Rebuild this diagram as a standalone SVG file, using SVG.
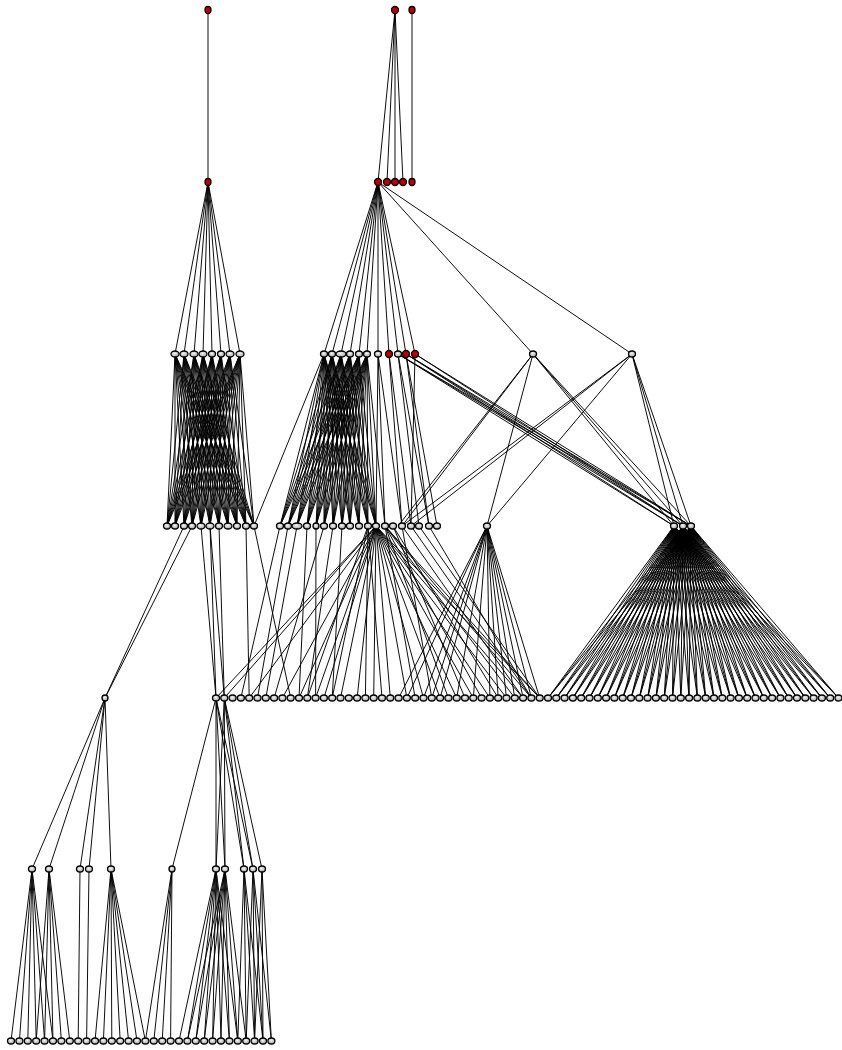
<svg xmlns="http://www.w3.org/2000/svg" width="842" height="1050" viewBox="0 0 842 1050">
<style>
.e{stroke:#000;stroke-width:0.95;fill:none}
.n{fill:url(#g);stroke:#000;stroke-width:1.3}
.r{fill:#c00000;stroke:#000;stroke-width:1.3}
</style>
<defs>
<radialGradient id="g" cx="0.45" cy="0.4" r="0.6"><stop offset="0" stop-color="#f2f2f2"/><stop offset="1" stop-color="#a8a8a8"/></radialGradient>
</defs>
<rect width="842" height="1050" fill="#fff"/>
<g id="connectors">
<path class="e" d="M208 10L208 182M395 10L378 182M395 10L387 182M395 10L395 182M395 10L403 182M412 10L412 182"/>
<path class="e" d="M208 182L175 354M208 182L184 354M208 182L194 354M208 182L203 354M208 182L212 354M208 182L221 354M208 182L230 354M208 182L240 354"/>
<path class="e" d="M378 182L324 354M378 182L332 354M378 182L341 354M378 182L350 354M378 182L359 354M378 182L367 354M378 182L378 354M378 182L389 354M378 182L398 354M378 182L406 354M378 182L415 354M378 182L533 354M378 182L632 354"/>
<path class="e" d="M175 354L167 526M175 354L175 526M175 354L184 526M175 354L192 526M175 354L201 526M175 354L210 526M175 354L219 526M175 354L228 526M175 354L237 526M175 354L246 526M175 354L254 526
M184 354L167 526M184 354L175 526M184 354L184 526M184 354L192 526M184 354L201 526M184 354L210 526M184 354L219 526M184 354L228 526M184 354L237 526M184 354L246 526M184 354L254 526
M194 354L167 526M194 354L175 526M194 354L184 526M194 354L192 526M194 354L201 526M194 354L210 526M194 354L219 526M194 354L228 526M194 354L237 526M194 354L246 526M194 354L254 526
M203 354L167 526M203 354L175 526M203 354L184 526M203 354L192 526M203 354L201 526M203 354L210 526M203 354L219 526M203 354L228 526M203 354L237 526M203 354L246 526M203 354L254 526
M212 354L167 526M212 354L175 526M212 354L184 526M212 354L192 526M212 354L201 526M212 354L210 526M212 354L219 526M212 354L228 526M212 354L237 526M212 354L246 526
M221 354L167 526M221 354L175 526M221 354L184 526M221 354L192 526M221 354L201 526M221 354L210 526M221 354L219 526M221 354L228 526M221 354L237 526M221 354L246 526
M230 354L167 526M230 354L175 526M230 354L184 526M230 354L192 526M230 354L201 526M230 354L210 526M230 354L219 526M230 354L228 526M230 354L237 526M230 354L246 526M230 354L254 526
M240 354L167 526M240 354L175 526M240 354L184 526M240 354L192 526M240 354L201 526M240 354L210 526M240 354L219 526M240 354L228 526M240 354L237 526M240 354L246 526M240 354L254 526"/>
<path class="e" d="M324 354L280 526M324 354L288 526M324 354L297 526M324 354L307 526M324 354L316 526M324 354L324 526M324 354L333 526M324 354L342 526M324 354L350 526M324 354L359 526M324 354L368 526M324 354L376 526
M332 354L280 526M332 354L288 526M332 354L297 526M332 354L307 526M332 354L316 526M332 354L324 526M332 354L333 526M332 354L342 526M332 354L350 526M332 354L359 526M332 354L368 526M332 354L376 526
M341 354L280 526M341 354L288 526M341 354L297 526M341 354L307 526M341 354L316 526M341 354L324 526M341 354L333 526M341 354L342 526M341 354L350 526M341 354L359 526M341 354L368 526M341 354L376 526
M350 354L280 526M350 354L288 526M350 354L297 526M350 354L307 526M350 354L316 526M350 354L324 526M350 354L333 526M350 354L342 526M350 354L350 526M350 354L359 526M350 354L368 526M350 354L376 526
M359 354L280 526M359 354L288 526M359 354L297 526M359 354L307 526M359 354L316 526M359 354L324 526M359 354L333 526M359 354L342 526M359 354L350 526M359 354L359 526M359 354L368 526M359 354L376 526
M367 354L288 526M367 354L297 526M367 354L307 526M367 354L316 526M367 354L324 526M367 354L333 526M367 354L342 526M367 354L350 526M367 354L359 526M367 354L368 526M367 354L376 526M367 354L385 526
M324 354L254 526M378 354L376 526M378 354L385 526M378 354L402 526M389 354L402 526M389 354L411 526M398 354L419 526M398 354L429 526M398 354L674 526M398 354L683 526M398 354L691 526M406 354L429 526M406 354L437 526M406 354L674 526M406 354L683 526M406 354L691 526M415 354L411 526M415 354L683 526M415 354L691 526"/>
<path class="e" d="M533 354L398 526M533 354L402 526M533 354L487 526M533 354L674 526M533 354L683 526M533 354L691 526M632 354L402 526M632 354L411 526M632 354L487 526M632 354L674 526M632 354L683 526M632 354L691 526"/>
<path class="e" d="M184 526L105 698M192 526L105 698M201 526L216 698M210 526L216 698M210 526L224.3 698M219 526L224.3 698M246 526L249.2 698M254 526L290.7 698
M280 526L240.9 698M288 526L257.5 698M297 526L265.8 698M307 526L299 698M316 526L315.6 698M324 526L274.1 698M333 526L307.3 698M342 526L332.2 698
M376 526L216 698M376 526L224.3 698M376 526L249.2 698M376 526L282.4 698M376 526L299 698M376 526L315.6 698M376 526L323.9 698M376 526L340.5 698M376 526L357.1 698M376 526L373.7 698M376 526L390.3 698M376 526L406.9 698M376 526L423.5 698M376 526L440.1 698M376 526L456.7 698M376 526L473.3 698M376 526L489.9 698M376 526L506.5 698M376 526L523.1 698M376 526L539.7 698
M368 526L307.3 698M368 526L332.2 698M368 526L365.4 698M368 526L382 698M385 526L415.2 698M385 526L448.4 698M385 526L481.6 698M385 526L514.8 698M385 526L531.4 698M385 526L539.7 698M393 526L465 698M393 526L498.2 698M402 526L431.8 698M402 526L523.1 698M411 526L531.4 698M419 526L539.7 698M429 526L531.4 698
M487 526L398.6 698M487 526L406.9 698M487 526L423.5 698M487 526L431.8 698M487 526L440.1 698M487 526L456.7 698M487 526L473.3 698M487 526L489.9 698M487 526L498.2 698M487 526L506.5 698M487 526L514.8 698M487 526L523.1 698M487 526L531.4 698M487 526L539.7 698"/>
<path class="e" d="M674 526L548 698M674 526L556.3 698M674 526L564.6 698M674 526L572.9 698M674 526L581.2 698M674 526L589.5 698M674 526L597.8 698M674 526L606.1 698M674 526L614.4 698M674 526L622.7 698M674 526L631 698M674 526L639.3 698M674 526L647.6 698M674 526L655.9 698M674 526L664.2 698M674 526L672.5 698M674 526L680.8 698M674 526L689.1 698M674 526L697.4 698M674 526L705.7 698M674 526L714 698M674 526L722.3 698M674 526L730.6 698M674 526L738.9 698M674 526L747.2 698M674 526L755.5 698M674 526L763.8 698M674 526L772.1 698M674 526L780.4 698M674 526L788.7 698M674 526L797 698M674 526L805.3 698M674 526L813.6 698M674 526L821.9 698M674 526L830.2 698M674 526L838.5 698
M683 526L548 698M683 526L556.3 698M683 526L564.6 698M683 526L572.9 698M683 526L581.2 698M683 526L589.5 698M683 526L597.8 698M683 526L606.1 698M683 526L614.4 698M683 526L622.7 698M683 526L631 698M683 526L639.3 698M683 526L647.6 698M683 526L655.9 698M683 526L664.2 698M683 526L672.5 698M683 526L680.8 698M683 526L689.1 698M683 526L697.4 698M683 526L705.7 698M683 526L714 698M683 526L722.3 698M683 526L730.6 698M683 526L738.9 698M683 526L747.2 698M683 526L755.5 698M683 526L763.8 698M683 526L772.1 698M683 526L780.4 698M683 526L788.7 698M683 526L797 698M683 526L805.3 698M683 526L813.6 698M683 526L821.9 698M683 526L830.2 698M683 526L838.5 698
M691 526L548 698M691 526L556.3 698M691 526L564.6 698M691 526L572.9 698M691 526L581.2 698M691 526L589.5 698M691 526L597.8 698M691 526L606.1 698M691 526L614.4 698M691 526L622.7 698M691 526L631 698M691 526L639.3 698M691 526L647.6 698M691 526L655.9 698M691 526L664.2 698M691 526L672.5 698M691 526L680.8 698M691 526L689.1 698M691 526L697.4 698M691 526L705.7 698M691 526L714 698M691 526L722.3 698M691 526L730.6 698M691 526L738.9 698M691 526L747.2 698M691 526L755.5 698M691 526L763.8 698M691 526L772.1 698M691 526L780.4 698M691 526L788.7 698M691 526L797 698M691 526L805.3 698M691 526L813.6 698M691 526L821.9 698M691 526L830.2 698M691 526L838.5 698"/>
<path class="e" d="M105 698L32 869M105 698L49 869M105 698L80 869M105 698L89 869M105 698L111 869M216 698L172 869M216 698L216 869M216 698L225 869M216 698L244 869M216 698L253 869M224.3 698L216 869M224.3 698L225 869M224.3 698L244 869M224.3 698L253 869M224.3 698L262 869"/>
<path class="e" d="M32 869L11 1041M32 869L19.4 1041M32 869L27.8 1041M32 869L36.2 1041M32 869L44.6 1041M32 869L53 1041M49 869L36.2 1041M49 869L44.6 1041M49 869L53 1041M49 869L61.4 1041M49 869L69.8 1041M80 869L78.2 1041M89 869L86.6 1041
M111 869L95 1041M111 869L103.4 1041M111 869L111.8 1041M111 869L120.2 1041M111 869L128.6 1041M111 869L137 1041M111 869L145.4 1041M172 869L145.4 1041M172 869L153.8 1041M172 869L162.2 1041M172 869L170.6 1041
M216 869L179 1041M216 869L187.4 1041M216 869L195.8 1041M216 869L204.2 1041M216 869L212.6 1041M216 869L221 1041M216 869L229.4 1041M216 869L237.8 1041M225 869L187.4 1041M225 869L195.8 1041M225 869L204.2 1041M225 869L212.6 1041M225 869L221 1041M225 869L229.4 1041M225 869L237.8 1041M225 869L246.2 1041
M244 869L237.8 1041M244 869L246.2 1041M244 869L254.6 1041M244 869L263 1041M253 869L246.2 1041M253 869L254.6 1041M253 869L263 1041M253 869L271.4 1041M262 869L254.6 1041M262 869L263 1041M262 869L271.4 1041"/>
</g>
<g id="row0">
<g id="a0"><ellipse class="r" cx="208" cy="10" rx="3" ry="3.5"/></g>
<g id="a1"><ellipse class="r" cx="395" cy="10" rx="3.5" ry="3.5"/></g>
<g id="a2"><ellipse class="r" cx="412" cy="10" rx="3" ry="3.5"/></g>
</g>
<g id="row1">
<g id="b0"><ellipse class="r" cx="208" cy="182" rx="3" ry="3.5"/></g>
<g id="b1"><ellipse class="r" cx="378" cy="182" rx="3.5" ry="3.5"/></g>
<g id="b2"><ellipse class="r" cx="387" cy="182" rx="3.5" ry="3.5"/></g>
<g id="b3"><ellipse class="r" cx="395" cy="182" rx="3.5" ry="3.5"/></g>
<g id="b4"><ellipse class="r" cx="403" cy="182" rx="3.5" ry="3.5"/></g>
<g id="b5"><ellipse class="r" cx="412" cy="182" rx="3" ry="3.5"/></g>
</g>
<g id="row2">
<g id="c0"><ellipse class="n" cx="175" cy="354" rx="4" ry="3"/></g>
<g id="c1"><ellipse class="n" cx="184" cy="354" rx="4" ry="3"/></g>
<g id="c2"><ellipse class="n" cx="194" cy="354" rx="4" ry="3"/></g>
<g id="c3"><ellipse class="n" cx="203" cy="354" rx="4" ry="3"/></g>
<g id="c4"><ellipse class="n" cx="212" cy="354" rx="3.5" ry="3"/></g>
<g id="c5"><ellipse class="n" cx="221" cy="354" rx="3.5" ry="3"/></g>
<g id="c6"><ellipse class="n" cx="230" cy="354" rx="4" ry="3"/></g>
<g id="c7"><ellipse class="n" cx="240" cy="354" rx="4" ry="3"/></g>
<g id="c8"><ellipse class="n" cx="324" cy="354" rx="3.5" ry="3"/></g>
<g id="c9"><ellipse class="n" cx="332" cy="354" rx="3.5" ry="3"/></g>
<g id="c10"><ellipse class="n" cx="341" cy="354" rx="5" ry="3"/></g>
<g id="c11"><ellipse class="n" cx="350" cy="354" rx="3.5" ry="3"/></g>
<g id="c12"><ellipse class="n" cx="359" cy="354" rx="3.5" ry="3"/></g>
<g id="c13"><ellipse class="n" cx="367" cy="354" rx="3.5" ry="3"/></g>
<g id="c14"><ellipse class="n" cx="378" cy="354" rx="3.5" ry="3"/></g>
<g id="c15"><ellipse class="r" cx="389" cy="354" rx="3.5" ry="3.5"/></g>
<g id="c16"><ellipse class="n" cx="398" cy="354" rx="3.5" ry="3"/></g>
<g id="c17"><ellipse class="r" cx="406" cy="354" rx="3.5" ry="3.5"/></g>
<g id="c18"><ellipse class="r" cx="415" cy="354" rx="3.5" ry="3.5"/></g>
<g id="c19"><ellipse class="n" cx="533" cy="354" rx="3.5" ry="3"/></g>
<g id="c20"><ellipse class="n" cx="632" cy="354" rx="3.5" ry="3"/></g>
</g>
<g id="row3">
<g id="d0"><ellipse class="n" cx="167" cy="526" rx="3.5" ry="3"/></g>
<g id="d1"><ellipse class="n" cx="175" cy="526" rx="3.5" ry="3"/></g>
<g id="d2"><ellipse class="n" cx="184" cy="526" rx="3.5" ry="3"/></g>
<g id="d3"><ellipse class="n" cx="192" cy="526" rx="3.5" ry="3"/></g>
<g id="d4"><ellipse class="n" cx="201" cy="526" rx="4" ry="3"/></g>
<g id="d5"><ellipse class="n" cx="210" cy="526" rx="4" ry="3"/></g>
<g id="d6"><ellipse class="n" cx="219" cy="526" rx="3.5" ry="3"/></g>
<g id="d7"><ellipse class="n" cx="228" cy="526" rx="4" ry="3"/></g>
<g id="d8"><ellipse class="n" cx="237" cy="526" rx="3.5" ry="3"/></g>
<g id="d9"><ellipse class="n" cx="246" cy="526" rx="3.5" ry="3"/></g>
<g id="d10"><ellipse class="n" cx="254" cy="526" rx="3.5" ry="3"/></g>
<g id="d11"><ellipse class="n" cx="280" cy="526" rx="3.5" ry="3"/></g>
<g id="d12"><ellipse class="n" cx="288" cy="526" rx="3.5" ry="3"/></g>
<g id="d13"><ellipse class="n" cx="297" cy="526" rx="5" ry="3"/></g>
<g id="d14"><ellipse class="n" cx="307" cy="526" rx="3.5" ry="3"/></g>
<g id="d15"><ellipse class="n" cx="316" cy="526" rx="3" ry="3"/></g>
<g id="d16"><ellipse class="n" cx="324" cy="526" rx="3.5" ry="3"/></g>
<g id="d17"><ellipse class="n" cx="333" cy="526" rx="3.5" ry="3"/></g>
<g id="d18"><ellipse class="n" cx="342" cy="526" rx="3.5" ry="3"/></g>
<g id="d19"><ellipse class="n" cx="350" cy="526" rx="3.5" ry="3"/></g>
<g id="d20"><ellipse class="n" cx="359" cy="526" rx="3.5" ry="3"/></g>
<g id="d21"><ellipse class="n" cx="368" cy="526" rx="3.5" ry="3"/></g>
<g id="d22"><ellipse class="n" cx="376" cy="526" rx="3.5" ry="3"/></g>
<g id="d23"><ellipse class="n" cx="385" cy="526" rx="3.5" ry="3"/></g>
<g id="d24"><ellipse class="n" cx="393" cy="526" rx="3.5" ry="3"/></g>
<g id="d25"><ellipse class="n" cx="402" cy="526" rx="3.5" ry="3"/></g>
<g id="d26"><ellipse class="n" cx="411" cy="526" rx="3.5" ry="3"/></g>
<g id="d27"><ellipse class="n" cx="419" cy="526" rx="3.5" ry="3"/></g>
<g id="d28"><ellipse class="n" cx="429" cy="526" rx="3.5" ry="3"/></g>
<g id="d29"><ellipse class="n" cx="437" cy="526" rx="3.5" ry="3"/></g>
<g id="d30"><ellipse class="n" cx="487" cy="526" rx="3.5" ry="3"/></g>
<g id="d31"><ellipse class="n" cx="674" cy="526" rx="3.5" ry="3"/></g>
<g id="d32"><ellipse class="n" cx="683" cy="526" rx="3.5" ry="3"/></g>
<g id="d33"><ellipse class="n" cx="691" cy="526" rx="3.5" ry="3"/></g>
</g>
<g id="row4">
<g id="e0"><ellipse class="n" cx="105" cy="698" rx="3" ry="3"/></g>
<g id="e1"><ellipse class="n" cx="216" cy="698" rx="3.5" ry="3"/></g>
<g id="e2"><ellipse class="n" cx="224.3" cy="698" rx="3.5" ry="3"/></g>
<g id="e3"><ellipse class="n" cx="232.6" cy="698" rx="3.5" ry="3"/></g>
<g id="e4"><ellipse class="n" cx="240.9" cy="698" rx="3.5" ry="3"/></g>
<g id="e5"><ellipse class="n" cx="249.2" cy="698" rx="3.5" ry="3"/></g>
<g id="e6"><ellipse class="n" cx="257.5" cy="698" rx="3.5" ry="3"/></g>
<g id="e7"><ellipse class="n" cx="265.8" cy="698" rx="3.5" ry="3"/></g>
<g id="e8"><ellipse class="n" cx="274.1" cy="698" rx="3.5" ry="3"/></g>
<g id="e9"><ellipse class="n" cx="282.4" cy="698" rx="3.5" ry="3"/></g>
<g id="e10"><ellipse class="n" cx="290.7" cy="698" rx="3.5" ry="3"/></g>
<g id="e11"><ellipse class="n" cx="299" cy="698" rx="3.5" ry="3"/></g>
<g id="e12"><ellipse class="n" cx="307.3" cy="698" rx="3.5" ry="3"/></g>
<g id="e13"><ellipse class="n" cx="315.6" cy="698" rx="3.5" ry="3"/></g>
<g id="e14"><ellipse class="n" cx="323.9" cy="698" rx="3.5" ry="3"/></g>
<g id="e15"><ellipse class="n" cx="332.2" cy="698" rx="3.5" ry="3"/></g>
<g id="e16"><ellipse class="n" cx="340.5" cy="698" rx="3.5" ry="3"/></g>
<g id="e17"><ellipse class="n" cx="348.8" cy="698" rx="3.5" ry="3"/></g>
<g id="e18"><ellipse class="n" cx="357.1" cy="698" rx="3.5" ry="3"/></g>
<g id="e19"><ellipse class="n" cx="365.4" cy="698" rx="3.5" ry="3"/></g>
<g id="e20"><ellipse class="n" cx="373.7" cy="698" rx="3.5" ry="3"/></g>
<g id="e21"><ellipse class="n" cx="382" cy="698" rx="3.5" ry="3"/></g>
<g id="e22"><ellipse class="n" cx="390.3" cy="698" rx="3.5" ry="3"/></g>
<g id="e23"><ellipse class="n" cx="398.6" cy="698" rx="3.5" ry="3"/></g>
<g id="e24"><ellipse class="n" cx="406.9" cy="698" rx="3.5" ry="3"/></g>
<g id="e25"><ellipse class="n" cx="415.2" cy="698" rx="3.5" ry="3"/></g>
<g id="e26"><ellipse class="n" cx="423.5" cy="698" rx="3.5" ry="3"/></g>
<g id="e27"><ellipse class="n" cx="431.8" cy="698" rx="3.5" ry="3"/></g>
<g id="e28"><ellipse class="n" cx="440.1" cy="698" rx="3.5" ry="3"/></g>
<g id="e29"><ellipse class="n" cx="448.4" cy="698" rx="3.5" ry="3"/></g>
<g id="e30"><ellipse class="n" cx="456.7" cy="698" rx="3.5" ry="3"/></g>
<g id="e31"><ellipse class="n" cx="465" cy="698" rx="3.5" ry="3"/></g>
<g id="e32"><ellipse class="n" cx="473.3" cy="698" rx="3.5" ry="3"/></g>
<g id="e33"><ellipse class="n" cx="481.6" cy="698" rx="3.5" ry="3"/></g>
<g id="e34"><ellipse class="n" cx="489.9" cy="698" rx="3.5" ry="3"/></g>
<g id="e35"><ellipse class="n" cx="498.2" cy="698" rx="3.5" ry="3"/></g>
<g id="e36"><ellipse class="n" cx="506.5" cy="698" rx="3.5" ry="3"/></g>
<g id="e37"><ellipse class="n" cx="514.8" cy="698" rx="3.5" ry="3"/></g>
<g id="e38"><ellipse class="n" cx="523.1" cy="698" rx="3.5" ry="3"/></g>
<g id="e39"><ellipse class="n" cx="531.4" cy="698" rx="3.5" ry="3"/></g>
<g id="e40"><ellipse class="n" cx="539.7" cy="698" rx="3.5" ry="3"/></g>
<g id="e41"><ellipse class="n" cx="548" cy="698" rx="3.5" ry="3"/></g>
<g id="e42"><ellipse class="n" cx="556.3" cy="698" rx="3.5" ry="3"/></g>
<g id="e43"><ellipse class="n" cx="564.6" cy="698" rx="3.5" ry="3"/></g>
<g id="e44"><ellipse class="n" cx="572.9" cy="698" rx="3.5" ry="3"/></g>
<g id="e45"><ellipse class="n" cx="581.2" cy="698" rx="3.5" ry="3"/></g>
<g id="e46"><ellipse class="n" cx="589.5" cy="698" rx="3.5" ry="3"/></g>
<g id="e47"><ellipse class="n" cx="597.8" cy="698" rx="3.5" ry="3"/></g>
<g id="e48"><ellipse class="n" cx="606.1" cy="698" rx="3.5" ry="3"/></g>
<g id="e49"><ellipse class="n" cx="614.4" cy="698" rx="3.5" ry="3"/></g>
<g id="e50"><ellipse class="n" cx="622.7" cy="698" rx="3.5" ry="3"/></g>
<g id="e51"><ellipse class="n" cx="631" cy="698" rx="3.5" ry="3"/></g>
<g id="e52"><ellipse class="n" cx="639.3" cy="698" rx="3.5" ry="3"/></g>
<g id="e53"><ellipse class="n" cx="647.6" cy="698" rx="3.5" ry="3"/></g>
<g id="e54"><ellipse class="n" cx="655.9" cy="698" rx="3.5" ry="3"/></g>
<g id="e55"><ellipse class="n" cx="664.2" cy="698" rx="3.5" ry="3"/></g>
<g id="e56"><ellipse class="n" cx="672.5" cy="698" rx="3.5" ry="3"/></g>
<g id="e57"><ellipse class="n" cx="680.8" cy="698" rx="3.5" ry="3"/></g>
<g id="e58"><ellipse class="n" cx="689.1" cy="698" rx="3.5" ry="3"/></g>
<g id="e59"><ellipse class="n" cx="697.4" cy="698" rx="3.5" ry="3"/></g>
<g id="e60"><ellipse class="n" cx="705.7" cy="698" rx="3.5" ry="3"/></g>
<g id="e61"><ellipse class="n" cx="714" cy="698" rx="3.5" ry="3"/></g>
<g id="e62"><ellipse class="n" cx="722.3" cy="698" rx="3.5" ry="3"/></g>
<g id="e63"><ellipse class="n" cx="730.6" cy="698" rx="3.5" ry="3"/></g>
<g id="e64"><ellipse class="n" cx="738.9" cy="698" rx="3.5" ry="3"/></g>
<g id="e65"><ellipse class="n" cx="747.2" cy="698" rx="3.5" ry="3"/></g>
<g id="e66"><ellipse class="n" cx="755.5" cy="698" rx="3.5" ry="3"/></g>
<g id="e67"><ellipse class="n" cx="763.8" cy="698" rx="3.5" ry="3"/></g>
<g id="e68"><ellipse class="n" cx="772.1" cy="698" rx="3.5" ry="3"/></g>
<g id="e69"><ellipse class="n" cx="780.4" cy="698" rx="3.5" ry="3"/></g>
<g id="e70"><ellipse class="n" cx="788.7" cy="698" rx="3.5" ry="3"/></g>
<g id="e71"><ellipse class="n" cx="797" cy="698" rx="3.5" ry="3"/></g>
<g id="e72"><ellipse class="n" cx="805.3" cy="698" rx="3.5" ry="3"/></g>
<g id="e73"><ellipse class="n" cx="813.6" cy="698" rx="3.5" ry="3"/></g>
<g id="e74"><ellipse class="n" cx="821.9" cy="698" rx="3.5" ry="3"/></g>
<g id="e75"><ellipse class="n" cx="830.2" cy="698" rx="3.5" ry="3"/></g>
<g id="e76"><ellipse class="n" cx="838.5" cy="698" rx="3.5" ry="3"/></g>
</g>
<g id="row5">
<g id="f0"><ellipse class="n" cx="32" cy="869" rx="3.5" ry="3"/></g>
<g id="f1"><ellipse class="n" cx="49" cy="869" rx="3.5" ry="3"/></g>
<g id="f2"><ellipse class="n" cx="80" cy="869" rx="3.5" ry="3"/></g>
<g id="f3"><ellipse class="n" cx="89" cy="869" rx="3.5" ry="3"/></g>
<g id="f4"><ellipse class="n" cx="111" cy="869" rx="3.5" ry="3"/></g>
<g id="f5"><ellipse class="n" cx="172" cy="869" rx="3" ry="3"/></g>
<g id="f6"><ellipse class="n" cx="216" cy="869" rx="3.5" ry="3"/></g>
<g id="f7"><ellipse class="n" cx="225" cy="869" rx="3.5" ry="3"/></g>
<g id="f8"><ellipse class="n" cx="244" cy="869" rx="3.5" ry="3"/></g>
<g id="f9"><ellipse class="n" cx="253" cy="869" rx="3.5" ry="3"/></g>
<g id="f10"><ellipse class="n" cx="262" cy="869" rx="3.5" ry="3"/></g>
</g>
<g id="row6">
<g id="h0"><ellipse class="n" cx="11" cy="1041" rx="3.5" ry="3"/></g>
<g id="h1"><ellipse class="n" cx="19.4" cy="1041" rx="3.5" ry="3"/></g>
<g id="h2"><ellipse class="n" cx="27.8" cy="1041" rx="3.5" ry="3"/></g>
<g id="h3"><ellipse class="n" cx="36.2" cy="1041" rx="3.5" ry="3"/></g>
<g id="h4"><ellipse class="n" cx="44.6" cy="1041" rx="3.5" ry="3"/></g>
<g id="h5"><ellipse class="n" cx="53" cy="1041" rx="3.5" ry="3"/></g>
<g id="h6"><ellipse class="n" cx="61.4" cy="1041" rx="3.5" ry="3"/></g>
<g id="h7"><ellipse class="n" cx="69.8" cy="1041" rx="3.5" ry="3"/></g>
<g id="h8"><ellipse class="n" cx="78.2" cy="1041" rx="3.5" ry="3"/></g>
<g id="h9"><ellipse class="n" cx="86.6" cy="1041" rx="3.5" ry="3"/></g>
<g id="h10"><ellipse class="n" cx="95" cy="1041" rx="3.5" ry="3"/></g>
<g id="h11"><ellipse class="n" cx="103.4" cy="1041" rx="3.5" ry="3"/></g>
<g id="h12"><ellipse class="n" cx="111.8" cy="1041" rx="3.5" ry="3"/></g>
<g id="h13"><ellipse class="n" cx="120.2" cy="1041" rx="3.5" ry="3"/></g>
<g id="h14"><ellipse class="n" cx="128.6" cy="1041" rx="3.5" ry="3"/></g>
<g id="h15"><ellipse class="n" cx="137" cy="1041" rx="3.5" ry="3"/></g>
<g id="h16"><ellipse class="n" cx="145.4" cy="1041" rx="3.5" ry="3"/></g>
<g id="h17"><ellipse class="n" cx="153.8" cy="1041" rx="3.5" ry="3"/></g>
<g id="h18"><ellipse class="n" cx="162.2" cy="1041" rx="3.5" ry="3"/></g>
<g id="h19"><ellipse class="n" cx="170.6" cy="1041" rx="3.5" ry="3"/></g>
<g id="h20"><ellipse class="n" cx="179" cy="1041" rx="3.5" ry="3"/></g>
<g id="h21"><ellipse class="n" cx="187.4" cy="1041" rx="3.5" ry="3"/></g>
<g id="h22"><ellipse class="n" cx="195.8" cy="1041" rx="3.5" ry="3"/></g>
<g id="h23"><ellipse class="n" cx="204.2" cy="1041" rx="3.5" ry="3"/></g>
<g id="h24"><ellipse class="n" cx="212.6" cy="1041" rx="3.5" ry="3"/></g>
<g id="h25"><ellipse class="n" cx="221" cy="1041" rx="3.5" ry="3"/></g>
<g id="h26"><ellipse class="n" cx="229.4" cy="1041" rx="3.5" ry="3"/></g>
<g id="h27"><ellipse class="n" cx="237.8" cy="1041" rx="3.5" ry="3"/></g>
<g id="h28"><ellipse class="n" cx="246.2" cy="1041" rx="3.5" ry="3"/></g>
<g id="h29"><ellipse class="n" cx="254.6" cy="1041" rx="3.5" ry="3"/></g>
<g id="h30"><ellipse class="n" cx="263" cy="1041" rx="3.5" ry="3"/></g>
<g id="h31"><ellipse class="n" cx="271.4" cy="1041" rx="3.5" ry="3"/></g>
</g>
</svg>
